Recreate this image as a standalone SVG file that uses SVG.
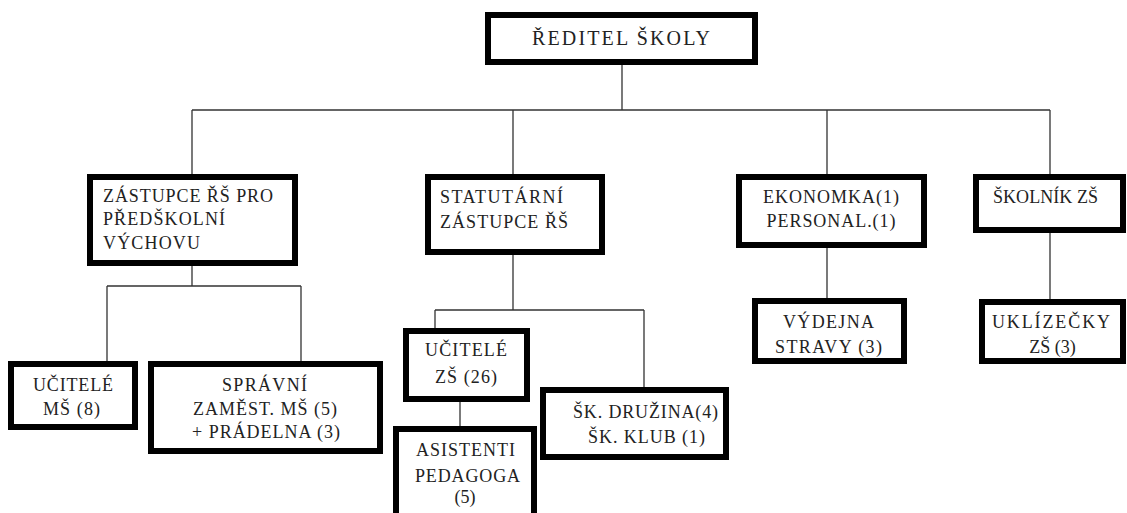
<svg xmlns="http://www.w3.org/2000/svg" width="1127" height="513" viewBox="0 0 1127 513">
<style>
.box{fill:#fff;stroke:#000;stroke-width:6}
text{font-family:'Liberation Serif','Times New Roman',serif;font-size:18px;fill:#222}
.c{text-anchor:middle}
.big{font-size:20px}
.ln{fill:none;stroke:#333;stroke-width:1.3}
</style>
<rect width="1127" height="513" fill="#fff"/>
<g id="connectors">
<path class="ln" d="M622 65V110M192 110H1050M192 110V174M513 110V174M827 110V174M1050 110V174"/>
<path class="ln" d="M192 266V286M107 286H301M107 286V361M301 286V361"/>
<path class="ln" d="M513 255V310M435 310H644M435 310V328M644 310V387"/>
<path class="ln" d="M460 402V426"/>
<path class="ln" d="M827 248V298M1050 233V299"/>
</g>
<g id="reditel">
<rect class="box" x="488" y="15" width="267" height="47"/>
<text class="big c" x="621" y="45" textLength="178" lengthAdjust="spacing">ŘEDITEL ŠKOLY</text>
</g>
<g id="zastupce-predskolni">
<rect class="box" x="90" y="177" width="205" height="86"/>
<text x="103" y="202" textLength="170" lengthAdjust="spacing">ZÁSTUPCE ŘŠ PRO</text>
<text x="103" y="225" textLength="122" lengthAdjust="spacing">PŘEDŠKOLNÍ</text>
<text x="103" y="249" textLength="97" lengthAdjust="spacing">VÝCHOVU</text>
</g>
<g id="statutarni">
<rect class="box" x="428" y="177" width="174" height="75"/>
<text x="440" y="203" textLength="123" lengthAdjust="spacing">STATUTÁRNÍ</text>
<text x="440" y="228" textLength="128" lengthAdjust="spacing">ZÁSTUPCE ŘŠ</text>
</g>
<g id="ekonomka">
<rect class="box" x="739" y="177" width="185" height="68"/>
<text class="c" x="831" y="203" textLength="136" lengthAdjust="spacing">EKONOMKA(1)</text>
<text class="c" x="831" y="227" textLength="129" lengthAdjust="spacing">PERSONAL.(1)</text>
</g>
<g id="skolnik">
<rect class="box" x="976" y="177" width="147" height="53"/>
<text class="c" x="1045.5" y="203" textLength="105" lengthAdjust="spacing">ŠKOLNÍK ZŠ</text>
</g>
<g id="vydejna">
<rect class="box" x="755" y="301" width="149" height="60"/>
<text class="c" x="828.5" y="328" textLength="91" lengthAdjust="spacing">VÝDEJNA</text>
<text class="c" x="828.5" y="353" textLength="107" lengthAdjust="spacing">STRAVY (3)</text>
</g>
<g id="uklizecky">
<rect class="box" x="982" y="302" width="141" height="59"/>
<text class="c" x="1051" y="328" textLength="118" lengthAdjust="spacing">UKLÍZEČKY</text>
<text class="c" x="1052.5" y="353">ZŠ (3)</text>
</g>
<g id="ucitele-ms">
<rect class="box" x="11" y="364" width="124" height="63"/>
<text class="c" x="73" y="391" textLength="80" lengthAdjust="spacing">UČITELÉ</text>
<text class="c" x="71.5" y="415" textLength="57" lengthAdjust="spacing">MŠ (8)</text>
</g>
<g id="spravni">
<rect class="box" x="151" y="364" width="229" height="87"/>
<text class="c" x="264.5" y="391" textLength="85" lengthAdjust="spacing">SPRÁVNÍ</text>
<text class="c" x="265" y="415" textLength="144" lengthAdjust="spacing">ZAMĚST. MŠ (5)</text>
<text class="c" x="266" y="438" textLength="148" lengthAdjust="spacing">+ PRÁDELNA (3)</text>
</g>
<g id="ucitele-zs">
<rect class="box" x="406" y="331" width="121" height="68"/>
<text class="c" x="466" y="356" textLength="82" lengthAdjust="spacing">UČITELÉ</text>
<text class="c" x="466" y="383" textLength="62" lengthAdjust="spacing">ZŠ (26)</text>
</g>
<g id="asistenti">
<rect class="box" x="396" y="429" width="138" height="100"/>
<text class="c" x="465.5" y="456" textLength="99" lengthAdjust="spacing">ASISTENTI</text>
<text class="c" x="467.5" y="482" textLength="105" lengthAdjust="spacing">PEDAGOGA</text>
<text class="c" x="465" y="503">(5)</text>
</g>
<g id="druzina">
<rect class="box" x="543" y="390" width="183" height="67"/>
<text class="c" x="645.5" y="418" textLength="145" lengthAdjust="spacing">ŠK. DRUŽINA(4)</text>
<text class="c" x="646.5" y="443" textLength="117" lengthAdjust="spacing">ŠK. KLUB (1)</text>
</g>
</svg>
